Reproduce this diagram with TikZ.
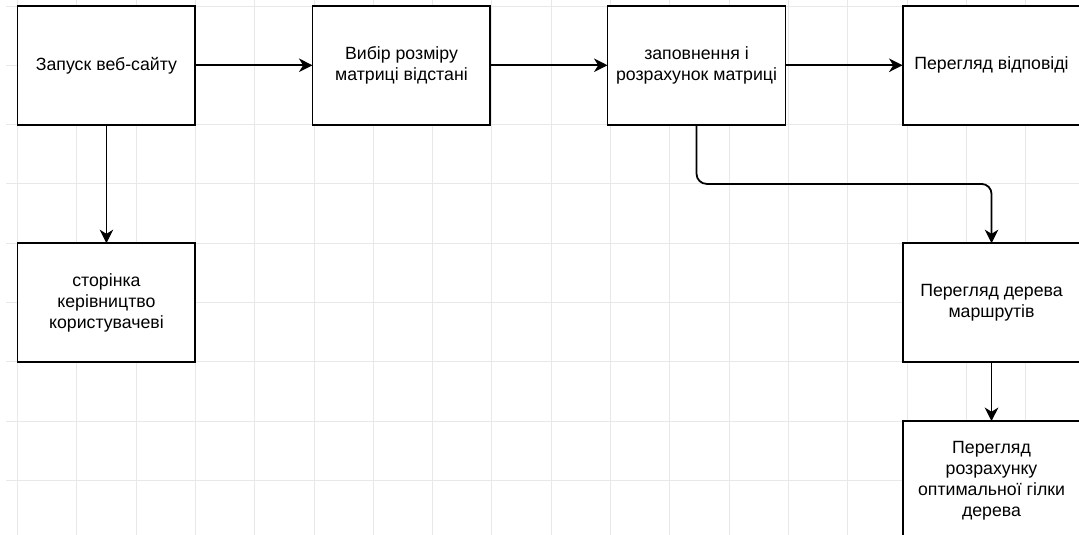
\documentclass[tikz,border=0pt]{standalone}
\usepackage{fontspec}
\setmainfont{Liberation Sans}
\usepackage{tkz-graph}
\usetikzlibrary{arrows.meta}

\begin{document}
\begin{tikzpicture}
	\GraphInit[vstyle = Normal]
	\tikzset{
	  VertexStyle/.style = { shape = rectangle, draw, line width = 0.9pt,
	                         fill = white, minimum width = 3cm,
	                         minimum height = 2cm, inner sep = 0pt,
	                         align = center,
	                         font = \fontsize{8.5}{10.1}\selectfont },
	  EdgeStyle/.style = { >={Stealth[length = 6.5pt, width = 6.5pt, inset = 2pt]},
	                       ->, line width = 0.85pt },
	  elbow/.style = { rounded corners = 0.17cm,
	                   to path = {-- ++(0, -2) -| (\tikztotarget) \tikztonodes} },
	  gridline/.style = { draw = black!9, line width = 0.45pt } }
	\clip (-0.295, 0.101) rectangle (17.9, -8.92);
	\draw[gridline] (-0.19, 0.101) grid (17.9, -8.92);
	\SetGraphUnit{4.975}
	\Vertex[x = 1.5, y = -1, L = {Запуск веб-сайту}]{start}
	\EA[L = {Вибір розміру\\матриці відстані}](start){size}
	\EA[L = {заповнення і\\розрахунок матриці}](size){fill}
	\EA[L = {Перегляд відповіді}](fill){answer}
	\SO[unit = 4, L = {сторінка\\керівництво\\користувачеві}](start){guide}
	\SO[unit = 4, L = {Перегляд дерева\\маршрутів}](answer){tree}
	\SO[unit = 3, L = {Перегляд\\розрахунку\\оптимальної гілки\\дерева}](tree){branch}
	\Edge(start)(size)
	\Edge(size)(fill)
	\Edge(fill)(answer)
	\Edge(start)(guide)
	\Edge[style = elbow](fill)(tree)
	\Edge(tree)(branch)
\end{tikzpicture}
\end{document}
